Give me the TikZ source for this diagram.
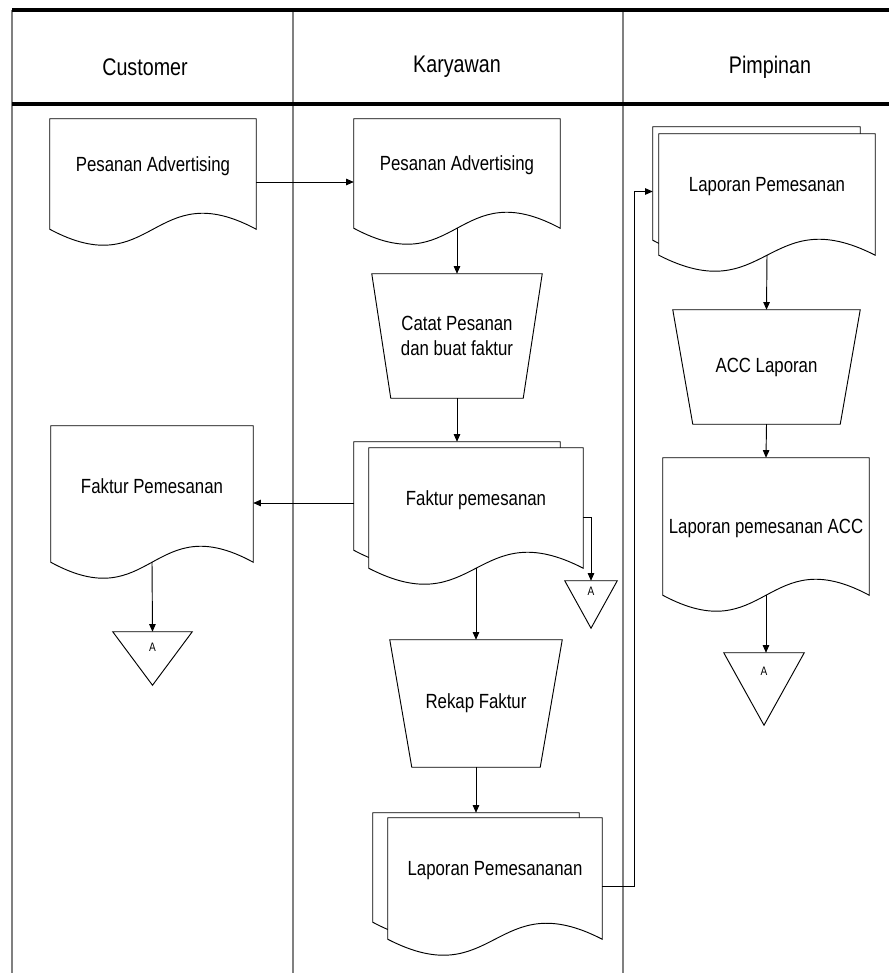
\documentclass[tikz,border=0pt]{standalone}
\usepackage{fontspec}
\setmainfont[FakeStretch=0.82]{Liberation Sans}
\usetikzlibrary{arrows.meta, positioning, calc, backgrounds}
\newlength\pu
\setlength\pu{0.03cm}
\newcommand\bodyfont{\fontsize{17.5}{21.3}\selectfont}
\newcommand\headfont{\fontsize{20.5}{24}\selectfont}
\newcommand\afont{\fontsize{10.5}{12}\selectfont}

\tikzset{
  lane/.style={draw=gray, line width=1pt},
  border/.style={draw=black, line width=2.6pt},
  doc/.style={inner sep=0pt, align=center, font=\bodyfont},
  outline/.style={draw=black, line width=0.8pt, fill=white},
  arr/.style={-{Triangle[length=6.5pt,width=5.5pt]}, line width=0.8pt},
  offpage/.style n args={3}{inner sep=0pt, minimum width=#1\pu, minimum height=#2\pu,
    label={[font=\afont, anchor=north, inner sep=0pt, yshift=-#3\pu]north:A}},
}

% outline of a document: straight top and sides, wavy bottom
\newcommand\docline[2][16]{%
  \draw[outline] (#2.north west) -- ($(#2.south west)+(0,#1)$)
    .. controls ($(#2.south)+(0,#1*4.46)$) and ($(#2.south)+(0,-#1*2.46)$)
    .. ($(#2.south east)+(0,#1)$) -- (#2.north east) -- cycle;}
% manual operation (trapezoid)
\newcommand\trapline[2]{%
  \draw[outline] (#1.north west) -- (#1.north east) -- ($(#1.south east)+(-#2,0)$)
    -- ($(#1.south west)+(#2,0)$) -- cycle;}
% off-page connector
\newcommand\offline[1]{%
  \draw[outline] (#1.north west) -- (#1.north east) -- (#1.south) -- cycle;}

\begin{document}
\begin{tikzpicture}[x=\pu, y=-\pu]
    \useasboundingbox (0,0) rectangle (889,973);

    % Header
    \node[font=\headfont] (hcust) at (145,67) {Customer};
    \node[font=\headfont] (hkary) at (457,67) {Karyawan};
    \node[font=\headfont] (hpimp) at (770,67) {Pimpinan};

    % Customer
    \node[doc, minimum width=206\pu, minimum height=94\pu] (cpesan) at (153,166) {Pesanan Advertising};
    \node[doc, minimum width=202\pu, minimum height=120\pu] (cfaktur) at (152,486) {Faktur Pemesanan};
    \node[offpage={79}{53}{11}] (ca) at (152.5,658.5) {};

    % Karyawan
    \node[doc, minimum width=206\pu, minimum height=93\pu] (kpesan) at (457,165.5) {Pesanan Advertising};
    \node[doc, minimum width=170\pu, minimum height=124\pu] (kcatat) at (457,336) {Catat Pesanan\\dan buat faktur};
    \node[doc, minimum width=206\pu, minimum height=92\pu] (kfb) at (457,488) {};
    \node[doc, minimum width=214\pu, minimum height=104\pu] (kff) at (476,500) {Faktur pemesanan};
    \node[offpage={52}{47}{6}] (ka) at (591,604.5) {};
    \node[doc, minimum width=172\pu, minimum height=127\pu] (krekap) at (476,703.5) {Rekap Faktur};
    \node[doc, minimum width=206\pu, minimum height=93\pu] (klb) at (476,859.5) {};
    \node[doc, minimum width=214\pu, minimum height=105\pu] (klf) at (495,870.5) {Laporan Pemesananan};

    % Pimpinan
    \node[doc, minimum width=207\pu, minimum height=97\pu] (plb) at (756.5,175.5) {};
    \node[doc, minimum width=216\pu, minimum height=105\pu] (plf) at (767,186.5) {Laporan Pemesanan};
    \node[doc, minimum width=187\pu, minimum height=114\pu] (pacc) at (766.5,367) {ACC Laporan};
    \node[doc, minimum width=206\pu, minimum height=121\pu, text height=35\pu] (plapacc) at (766,518.5) {Laporan pemesanan ACC};
    \node[offpage={80}{72}{14}] (pa) at (764,689) {};

    \begin{scope}[on background layer]
      % lanes
      \draw[lane] (12,10) -- (12,973);
      \draw[lane] (293,10) -- (293,973);
      \draw[lane] (623,10) -- (623,973);
      \draw[border] (12,10) -- (889,10);
      \draw[border] (12,104) -- (889,104);
      % shapes
      \docline{cpesan}
      \docline{cfaktur}
      \offline{ca}
      \docline{kpesan}
      \trapline{kcatat}{19}
      \docline{kfb}
      \docline{kff}
      \offline{ka}
      \trapline{krekap}{22}
      \docline{klb}
      \docline{klf}
      \docline{plb}
      \docline{plf}
      \trapline{pacc}{20}
      \docline{plapacc}
      \offline{pa}
    \end{scope}

    % Alur
    \draw[arr] (cpesan.east) ++(0,16) coordinate (p1) -- (p1 -| kpesan.west);
    \draw[arr] ($(kpesan.south)+(0,16)$) -- (kcatat.north);
    \draw[arr] (kcatat.south) -- (kfb.north);
    \draw[arr] (kfb.west) ++(0,15) coordinate (p2) -- (p2 -| cfaktur.east);
    \draw[arr] ($(cfaktur.south)+(0,16)$) -- (ca.north);
    \draw[arr] (kff.east) ++(0,17) -| (ka.north);
    \draw[arr] ($(kff.south)+(0,16)$) -- (krekap.north);
    \draw[arr] (krekap.south) -- (klb.north);
    \draw[arr] (klf.east) ++(0,16) -| ($(plb.west)+(-18,16)$) -- ($(plb.west)+(0,16)$);
    \draw[arr] ($(plf.south)+(0,16)$) -- (pacc.north);
    \draw[arr] (pacc.south) -- (plapacc.north);
    \draw[arr] ($(plapacc.south)+(0,16)$) coordinate (p3) -- (p3 |- pa.north);
  \end{tikzpicture}
\end{document}
